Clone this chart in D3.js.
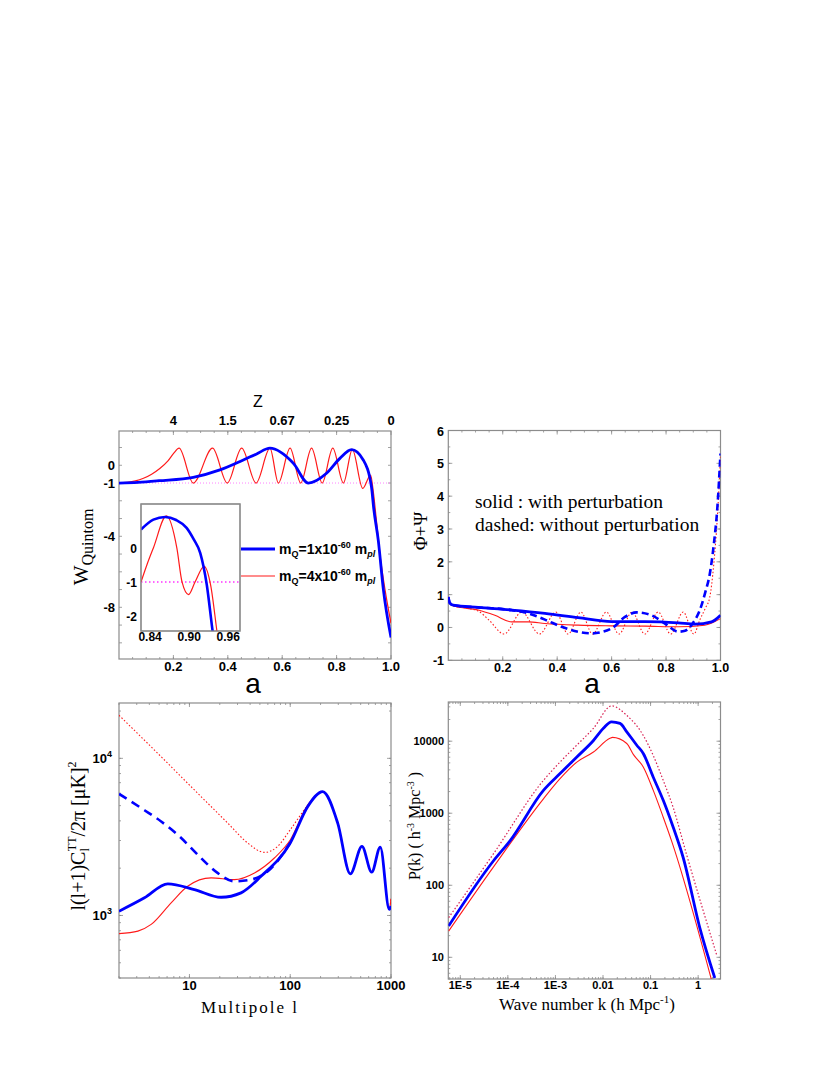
<!DOCTYPE html>
<html><head><meta charset="utf-8">
<script src="https://cdn.jsdelivr.net/npm/d3@7"></script>
<style>body{margin:0;background:#fff}</style>
</head><body>
<svg id="c" width="830" height="1075"></svg>
<script>
// ---------- Panel 1: w_Quintom vs a ----------
const tlBlueA = [0, 0.07, 0.147, 0.273, 0.371, 0.457, 0.506, 0.555, 0.641, 0.696, 0.763, 0.812, 0.855, 0.898, 0.928, 0.937, 0.953, 0.972, 1.0];
const tlBlueW = [-1, -0.96, -0.87, -0.68, -0.26, 0.3, 0.64, 0.96, 0.11, -1.0, -0.45, 0.39, 0.88, 0.3, -1.2, -2.5, -4.2, -7.0, -9.7];
const tlRedA = [0, 0.03, 0.06, 0.09, 0.12, 0.15, 0.18, 0.2, 0.221, 0.273, 0.344, 0.398, 0.451, 0.504, 0.555, 0.586, 0.629, 0.668, 0.708, 0.747, 0.786, 0.825, 0.858, 0.896, 0.925, 0.935, 0.945, 0.96, 0.978, 1.0];
const tlRedW = [-1, -0.96, -0.88, -0.73, -0.5, -0.18, 0.25, 0.65, 0.96, -1, 0.96, -1, 0.96, -1, 0.96, -1, 0.96, -1, 0.96, -1, 0.96, -1, 0.9, -1.3, -0.55, -1.5, -2.9, -5.1, -7.0, -8.9];
const tlXTicks = [0.2, 0.4, 0.6, 0.8, 1.0];
const tlYTicks = [0, -1, -4, -8];
const zTickA = [0.2, 0.4, 0.6, 0.8, 1.0];
const zTickLabels = ["4", "1.5", "0.67", "0.25", "0"];
// inset
const insBlueA = [0.826, 0.845, 0.863, 0.88, 0.896, 0.907, 0.917, 0.927, 0.936, 0.945];
const insBlueW = [0.54, 0.83, 0.91, 0.82, 0.59, 0.25, -0.15, -1.08, -2.45, -3.6];
const insRedA = [0.826, 0.835, 0.845, 0.865, 0.881, 0.889, 0.899, 0.909, 0.923, 0.933, 0.9426, 0.95];
const insRedW = [-1, -0.5, 0, 0.94, 0, -1, -1.37, -1.0, -0.54, -1.1, -2.45, -3.5];
const insXTicks = [0.84, 0.90, 0.96];
const insYTicks = [0, -1, -2];

// ---------- Panel 2: Phi+Psi vs a ----------
const trBlueA = [0, 0.005, 0.018, 0.11, 0.233, 0.355, 0.477, 0.6, 0.722, 0.845, 0.906, 0.967, 1.0];
const trBlueV = [0.93, 0.75, 0.68, 0.61, 0.53, 0.43, 0.30, 0.18, 0.18, 0.14, 0.10, 0.17, 0.37];
const trRedA = [0, 0.005, 0.018, 0.11, 0.171, 0.233, 0.294, 0.355, 0.477, 0.6, 0.722, 0.845, 0.942, 1.0];
const trRedV = [0.93, 0.75, 0.66, 0.53, 0.37, 0.17, 0.17, 0.12, 0.07, 0.05, 0.04, 0.02, 0.07, 0.27];
const trBlueDashA = [0, 0.005, 0.018, 0.11, 0.233, 0.294, 0.355, 0.416, 0.477, 0.526, 0.6, 0.649, 0.692, 0.747, 0.796, 0.845, 0.87, 0.9, 0.925, 0.945, 0.96, 0.975, 0.988, 1.0];
const trBlueDashV = [0.93, 0.75, 0.68, 0.61, 0.53, 0.43, 0.24, 0.02, -0.13, -0.18, -0.03, 0.32, 0.46, 0.37, 0.12, -0.13, -0.1, 0.15, 0.55, 1.1, 1.6, 2.5, 3.6, 5.3];
const trRedDotA = [0, 0.005, 0.018, 0.06, 0.11, 0.15, 0.205, 0.27, 0.335, 0.395, 0.44, 0.487, 0.53, 0.581, 0.627, 0.675, 0.722, 0.771, 0.817, 0.863, 0.902, 0.925, 0.945, 0.96, 0.975, 0.988, 1.0];
const trRedDotV = [0.93, 0.75, 0.66, 0.6, 0.5, 0.22, -0.2, 0.47, -0.2, 0.47, -0.2, 0.47, -0.2, 0.47, -0.2, 0.47, -0.2, 0.47, -0.2, 0.47, -0.2, 0.25, 0.6, 0.9, 1.9, 3.3, 5.2];
const trXTicks = [0.2, 0.4, 0.6, 0.8, 1.0];
const trYTicks = [-1, 0, 1, 2, 3, 4, 5, 6];

// ---------- Panel 3: CMB TT spectrum ----------
const clBlueL = [2, 3.58, 6.1, 11.2, 20.6, 32.5, 51.3, 100, 149, 210, 296, 395, 515, 643, 783, 962, 1000];
const clBlueC = [1064, 1295, 1590, 1462, 1306, 1393, 1775, 2890, 4930, 6140, 3870, 1840, 2755, 1885, 2725, 1092, 1150];
const clBlueDashL = [2, 3.58, 5.24, 7.96, 12.56, 19, 27.9, 40.8, 59.9, 100];
const clBlueDashC = [5940, 4676, 3963, 3185, 2375, 1865, 1650, 1690, 1910, 2890];
const clRedL = [2, 3.08, 4.17, 6.58, 9.6, 16.4, 27.9, 44.2, 69.6, 100, 149, 210, 296, 395, 515, 643, 783, 962, 1000];
const clRedC = [766, 795, 877, 1204, 1534, 1734, 1690, 1865, 2322, 3020, 5050, 6140, 3900, 1850, 2760, 1890, 2730, 1100, 1280];
const clRedDotL = [2, 5.24, 11.2, 24, 37.9, 55.6, 75, 100, 149, 210, 296, 395, 515, 643, 783, 962, 1000];
const clRedDotC = [18800, 10240, 6290, 3870, 2890, 2520, 2750, 3510, 5000, 6140, 3900, 1850, 2760, 1890, 2730, 1100, 1280];
const clXTicks = [10, 100, 1000];
const clYTicks = [1000, 10000];

// ---------- Panel 4: matter power spectrum ----------
const pkBlueK = [5.69e-6, 5.0e-5, 1.12e-4, 5.6e-4, 1.25e-3, 2.82e-3, 6.3e-3, 0.0102, 0.0151, 0.0228, 0.0316, 0.0513, 0.0702, 0.114, 0.1845, 0.299, 0.484, 1.084, 2.24];
const pkBlueP = [27.2, 219, 417, 2075, 3550, 6030, 10230, 15100, 18600, 17660, 13500, 8790, 6760, 3160, 1510, 638, 243, 25.7, 5.16];
const pkRedK = [5.69e-6, 5.0e-5, 5.6e-4, 1.25e-3, 2.82e-3, 6.3e-3, 0.014, 0.0158, 0.0316, 0.0437, 0.0702, 0.114, 0.1845, 0.275, 1.9];
const pkRedP = [23.1, 180, 1585, 3020, 5130, 7080, 10960, 11300, 9290, 6500, 4390, 2075, 880, 417, 4.9];
const pkRedDotK = [5.69e-6, 5.0e-5, 5.6e-4, 1.25e-3, 2.8e-3, 6.26e-3, 0.0152, 0.0314, 0.0702, 0.114, 0.1845, 0.299, 0.569, 2.43];
const pkRedDotP = [35.5, 275, 2858, 5130, 8790, 15030, 30900, 22900, 12020, 6310, 2858, 1200, 269, 11];
const pkXTicks = [1e-5, 1e-4, 1e-3, 0.01, 0.1, 1];
const pkXLabels = ["1E-5", "1E-4", "1E-3", "0.01", "0.1", "1"];
const pkYTicks = [10, 100, 1000, 10000];

// ================= drawing =================
const svg = d3.select('#c');
const BLUE = '#0000ff', RED = '#ff1a1a', GRAY = '#8c8c8c';
const tickFont = 'Liberation Sans, Arial, sans-serif';
const serif = 'Liberation Serif, Times New Roman, serif';

function addFrame(x0, y0, x1, y1, id) {
  svg.append('clipPath').attr('id', id).append('rect')
    .attr('x', x0).attr('y', y0).attr('width', x1 - x0).attr('height', y1 - y0);
  svg.append('rect').attr('x', x0).attr('y', y0).attr('width', x1 - x0).attr('height', y1 - y0)
    .attr('fill', '#fff').attr('stroke', GRAY).attr('stroke-width', 1.2);
}
function frameBorder(x0, y0, x1, y1) {
  svg.append('rect').attr('x', x0).attr('y', y0).attr('width', x1 - x0).attr('height', y1 - y0)
    .attr('fill', 'none').attr('stroke', GRAY).attr('stroke-width', 1.2);
}
function xTickMarks(vals, sx, y0, y1, len) {
  const g = svg.append('g').attr('stroke', GRAY).attr('stroke-width', 0.8);
  vals.forEach(v => {
    const x = sx(v);
    g.append('line').attr('x1', x).attr('x2', x).attr('y1', y1).attr('y2', y1 - len);
    g.append('line').attr('x1', x).attr('x2', x).attr('y1', y0).attr('y2', y0 + len);
  });
}
function yTickMarks(vals, sy, x0, x1, len) {
  const g = svg.append('g').attr('stroke', GRAY).attr('stroke-width', 0.8);
  vals.forEach(v => {
    const y = sy(v);
    g.append('line').attr('y1', y).attr('y2', y).attr('x1', x0).attr('x2', x0 + len);
    g.append('line').attr('y1', y).attr('y2', y).attr('x1', x1).attr('x2', x1 - len);
  });
}
function series(xs, ys, sx, sy, clip, stroke, width, dash) {
  const pts = xs.map((x, i) => [sx(x), sy(ys[i])]);
  const p = svg.append('path').attr('d', d3.line().curve(d3.curveMonotoneX)(pts))
    .attr('fill', 'none').attr('stroke', stroke).attr('stroke-width', width)
    .attr('stroke-linejoin', 'round').attr('clip-path', `url(#${clip})`);
  if (dash) p.attr('stroke-dasharray', dash);
  return p;
}
function label(x, y, txt, size, anchor, bold) {
  return svg.append('text').attr('x', x).attr('y', y).attr('text-anchor', anchor || 'middle')
    .attr('font-family', tickFont).attr('font-size', size).attr('font-weight', bold === false ? 'normal' : 'bold')
    .attr('fill', '#000').text(txt);
}
function range(a, b, s) { const r = []; for (let v = a; v <= b + 1e-9; v += s) r.push(+v.toFixed(6)); return r; }
function logMinors(lo, hi) {
  const r = [];
  for (let e = Math.floor(Math.log10(lo)); e <= Math.ceil(Math.log10(hi)); e++)
    for (let m = 1; m < 10; m++) { const v = m * Math.pow(10, e); if (v >= lo && v <= hi) r.push(v); }
  return r;
}

// ---------- Panel 1 ----------
{
  const x0 = 119, x1 = 391, y0 = 431, y1 = 659;
  const sx = d3.scaleLinear().domain([0, 1]).range([x0, x1]);
  const sy = d3.scaleLinear().domain([1.93, -10.91]).range([y0, y1]);
  addFrame(x0, y0, x1, y1, 'c1');
  xTickMarks(range(0.05, 0.95, 0.05), sx, y0, y1, 2);
  xTickMarks(tlXTicks, sx, y0, y1, 4);
  yTickMarks(range(-10, 1, 1), sy, x0, x1, 3);
  svg.append('line').attr('x1', x0).attr('x2', x1).attr('y1', sy(-1)).attr('y2', sy(-1))
    .attr('stroke', '#ff80ff').attr('stroke-width', 1).attr('stroke-dasharray', '1,2');
  series(tlRedA, tlRedW, sx, sy, 'c1', RED, 1.2);
  series(tlBlueA, tlBlueW, sx, sy, 'c1', BLUE, 2.8);
  tlXTicks.forEach(v => label(sx(v), 671, v.toFixed(1), 13));
  tlYTicks.forEach(v => label(115, sy(v) + 5, String(v), 13, 'end'));
  zTickA.forEach((v, i) => label(sx(v), 425, zTickLabels[i], 13));
  label(258, 407, 'Z', 16, 'middle', false);
  label(253, 693, 'a', 28, 'middle', false);
  const yl = svg.append('text').attr('transform', 'translate(88,547) rotate(-90)')
    .attr('text-anchor', 'middle').attr('font-family', serif).attr('font-size', 21);
  yl.append('tspan').text('W');
  yl.append('tspan').attr('font-size', 16).attr('dy', 5).text('Quintom');

  // inset
  const ix0 = 141, ix1 = 240, iy0 = 504, iy1 = 631;
  const isx = d3.scaleLinear().domain([0.826, 0.978]).range([ix0, ix1]);
  const isy = d3.scaleLinear().domain([1.29, -2.44]).range([iy0, iy1]);
  addFrame(ix0, iy0, ix1, iy1, 'c1i');
  svg.append('line').attr('x1', ix0).attr('x2', ix1).attr('y1', isy(-1)).attr('y2', isy(-1))
    .attr('stroke', '#ff33ff').attr('stroke-width', 1.4).attr('stroke-dasharray', '1.5,2.5');
  series(insRedA, insRedW, isx, isy, 'c1i', RED, 1.2);
  series(insBlueA, insBlueW, isx, isy, 'c1i', BLUE, 2.6);
  frameBorder(ix0, iy0, ix1, iy1);
  insXTicks.forEach(v => label(isx(v), 641, v.toFixed(2), 12));
  insYTicks.forEach(v => label(137, isy(v) + 5, String(v), 12, 'end'));

  // legend
  const legend = [{c: BLUE, w: 2.8, y: 549, m: '1'}, {c: RED, w: 1.2, y: 576, m: '4'}];
  legend.forEach(d => {
    svg.append('line').attr('x1', 241).attr('x2', 275).attr('y1', d.y).attr('y2', d.y)
      .attr('stroke', d.c).attr('stroke-width', d.w);
    const t = svg.append('text').attr('x', 279).attr('y', d.y + 5).attr('font-family', tickFont)
      .attr('font-weight', 'bold').attr('font-size', 14);
    t.append('tspan').text('m');
    t.append('tspan').attr('font-size', 9).attr('dy', 3).text('Q');
    t.append('tspan').attr('dy', -3).text('=' + d.m + 'x10');
    t.append('tspan').attr('font-size', 9).attr('dy', -6).text('-60');
    t.append('tspan').attr('dy', 6).text(' m');
    t.append('tspan').attr('font-size', 9).attr('dy', 3).attr('font-style', 'italic').text('pl');
  });
}

// ---------- Panel 2 ----------
{
  const x0 = 448.3, x1 = 720.5, y0 = 430.5, y1 = 660.3;
  const sx = d3.scaleLinear().domain([0, 1]).range([x0, x1]);
  const sy = d3.scaleLinear().domain([6, -1]).range([y0, y1]);
  addFrame(x0, y0, x1, y1, 'c2');
  xTickMarks(range(0.05, 0.95, 0.05), sx, y0, y1, 2);
  xTickMarks(trXTicks, sx, y0, y1, 4);
  yTickMarks(range(-0.5, 5.5, 0.5), sy, x0, x1, 2);
  yTickMarks(trYTicks, sy, x0, x1, 4);
  series(trRedDotA, trRedDotV, sx, sy, 'c2', RED, 1.1, '1.5,2');
  series(trRedA, trRedV, sx, sy, 'c2', RED, 1.1);
  series(trBlueDashA, trBlueDashV, sx, sy, 'c2', BLUE, 2.6, '7,4');
  series(trBlueA, trBlueV, sx, sy, 'c2', BLUE, 2.8);
  trXTicks.forEach(v => label(sx(v), 672, v.toFixed(1), 12.5));
  trYTicks.forEach(v => label(444, sy(v) + 5, String(v), 12.5, 'end'));
  label(592, 693, 'a', 28, 'middle', false);
  svg.append('text').attr('x', 475).attr('y', 508).attr('font-family', serif).attr('font-size', 19.5).text('solid : with perturbation');
  svg.append('text').attr('x', 475).attr('y', 531).attr('font-family', serif).attr('font-size', 19.5).text('dashed: without perturbation');
  svg.append('text').attr('transform', 'translate(427,531) rotate(-90)').attr('text-anchor', 'middle')
    .attr('font-family', serif).attr('font-size', 19).text('Φ+Ψ');
}

// ---------- Panel 3 ----------
{
  const x0 = 119, x1 = 391, y0 = 703, y1 = 978;
  const sx = d3.scaleLog().domain([2, 1000]).range([x0, x1]);
  const sy = d3.scaleLog().domain([400, 22500]).range([y1, y0]);
  addFrame(x0, y0, x1, y1, 'c3');
  xTickMarks(logMinors(2, 1000), sx, y0, y1, 2);
  xTickMarks(clXTicks, sx, y0, y1, 4);
  yTickMarks(logMinors(400, 22500), sy, x0, x1, 2);
  yTickMarks(clYTicks, sy, x0, x1, 4);
  series(clRedDotL, clRedDotC, sx, sy, 'c3', RED, 1.1, '1.5,2');
  series(clRedL, clRedC, sx, sy, 'c3', RED, 1.1);
  series(clBlueDashL, clBlueDashC, sx, sy, 'c3', BLUE, 2.6, '9,6');
  series(clBlueL, clBlueC, sx, sy, 'c3', BLUE, 2.8);
  clXTicks.forEach(v => label(sx(v), 990, String(v), 13));
  clYTicks.forEach(v => {
    const t = label(112, sy(v) + 5, '10', 13, 'end');
    t.append('tspan').attr('font-size', 9).attr('dy', -6).text(String(Math.round(Math.log10(v))));
  });
  svg.append('text').attr('x', 250).attr('y', 1013).attr('text-anchor', 'middle').attr('font-family', serif)
    .attr('font-size', 17).attr('letter-spacing', 2).text('Multipole l');
  const yl = svg.append('text').attr('transform', 'translate(85,836) rotate(-90)').attr('text-anchor', 'middle')
    .attr('font-family', serif).attr('font-size', 20);
  yl.append('tspan').text('l(l+1)C');
  yl.append('tspan').attr('font-size', 12).attr('dy', 4).text('l');
  yl.append('tspan').attr('font-size', 12).attr('dx', -3).attr('dy', -13).text('TT');
  yl.append('tspan').attr('dy', 9).text('/2π  [μK]');
  yl.append('tspan').attr('font-size', 12).attr('dy', -9).text('2');
}

// ---------- Panel 4 ----------
{
  const x0 = 448.3, x1 = 720.5, y0 = 702, y1 = 979;
  const sx = d3.scaleLog().domain([5.6e-6, 2.95]).range([x0, x1]);
  const sy = d3.scaleLog().domain([5, 35000]).range([y1, y0]);
  addFrame(x0, y0, x1, y1, 'c4');
  xTickMarks(logMinors(5.6e-6, 2.95), sx, y0, y1, 2);
  xTickMarks(pkXTicks, sx, y0, y1, 4);
  yTickMarks(logMinors(5, 35000), sy, x0, x1, 2);
  yTickMarks(pkYTicks, sy, x0, x1, 4);
  series(pkRedDotK, pkRedDotP, sx, sy, 'c4', '#d81e50', 1.2, '1.5,2');
  series(pkRedK, pkRedP, sx, sy, 'c4', RED, 1.1);
  series(pkBlueK, pkBlueP, sx, sy, 'c4', BLUE, 2.8);
  pkXTicks.forEach((v, i) => label(sx(v), 989, pkXLabels[i], 11));
  pkYTicks.forEach(v => label(444, sy(v) + 4, String(v), 11, 'end'));
  const xl = svg.append('text').attr('x', 587).attr('y', 1010).attr('text-anchor', 'middle')
    .attr('font-family', serif).attr('font-size', 17);
  xl.append('tspan').text('Wave number k (h Mpc');
  xl.append('tspan').attr('font-size', 11).attr('dy', -7).text('-1');
  xl.append('tspan').attr('dy', 7).text(')');
  const yl = svg.append('text').attr('transform', 'translate(420,826) rotate(-90)').attr('text-anchor', 'middle')
    .attr('font-family', serif).attr('font-size', 16);
  yl.append('tspan').text('P(k) ( h');
  yl.append('tspan').attr('font-size', 10).attr('dy', -6).text('-3');
  yl.append('tspan').attr('dy', 6).text(' Mpc');
  yl.append('tspan').attr('font-size', 10).attr('dy', -6).text('-3');
  yl.append('tspan').attr('dy', 6).text(' )');
}
</script>
</body></html>
